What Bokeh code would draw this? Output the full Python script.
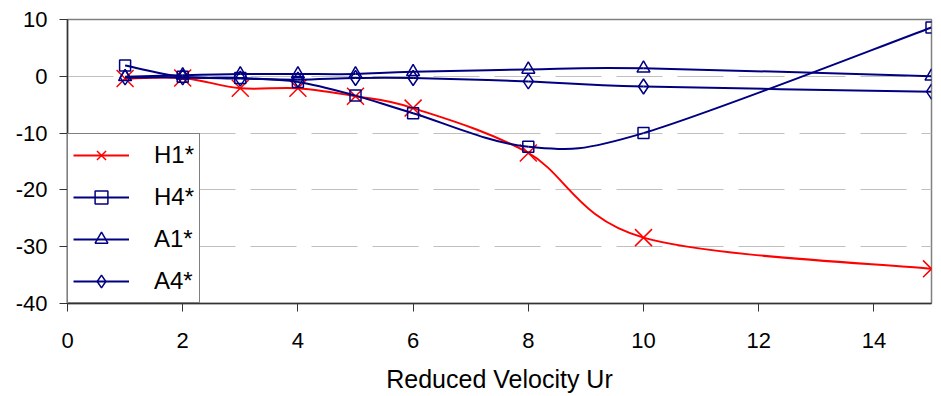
import numpy as np
from bokeh.plotting import figure
from bokeh.models import Legend, LegendItem, Range1d, FixedTicker, PrintfTickFormatter
from bokeh.embed import file_html
from bokeh.resources import INLINE

# ---- data ----
ur = [1, 2, 3, 4, 5, 6, 8, 10, 15]
h1 = [-0.4, -0.3, -2.1, -2.1, -3.5, -5.6, -13.5, -28.4, -33.9]
h4 = [1.9, -0.1, -0.3, -1.0, -3.4, -6.5, -12.4, -10.0, 8.6]
a1 = [-0.1, 0.2, 0.4, 0.4, 0.4, 0.8, 1.2, 1.4, 0.0]
a4 = [-0.2, -0.2, -0.4, -0.6, -0.3, -0.3, -0.9, -1.8, -2.7]
series_names = ["H1*", "H4*", "A1*", "A4*"]
x_ticks = [0, 2, 4, 6, 8, 10, 12, 14]
y_ticks = [-40, -30, -20, -10, 0, 10]

FONT = "Liberation Sans"
NAVY = "#000080"
RED = "#ff0000"


def smooth_segments(xs, ys):
    """Excel-like smoothed line: cubic Bezier control points from neighbours."""
    x = np.asarray(xs, float)
    y = np.asarray(ys, float)
    n = len(x)
    xp = np.concatenate([[x[0]], x, [x[-1]]])
    yp = np.concatenate([[y[0]], y, [y[-1]]])
    d = dict(x0=[], y0=[], x1=[], y1=[], cx0=[], cy0=[], cx1=[], cy1=[])
    for i in range(n - 1):
        j = i + 1
        d["x0"].append(x[i]); d["y0"].append(y[i])
        d["x1"].append(x[i + 1]); d["y1"].append(y[i + 1])
        d["cx0"].append(x[i] + (xp[j + 1] - xp[j - 1]) / 6.0)
        d["cy0"].append(y[i] + (yp[j + 1] - yp[j - 1]) / 6.0)
        d["cx1"].append(x[i + 1] - (xp[j + 2] - xp[j]) / 6.0)
        d["cy1"].append(y[i + 1] - (yp[j + 2] - yp[j]) / 6.0)
    return d


p = figure(width=935, height=395, output_backend="svg", toolbar_location=None,
           x_range=Range1d(0, 15), y_range=Range1d(-40, 10),
           min_border_left=67, min_border_right=4, min_border_top=19,
           min_border_bottom=92)

p.outline_line_color = "#808080"
p.outline_line_width = 1.5
p.background_fill_color = "white"
p.border_fill_color = "white"

p.xgrid.visible = False
p.ygrid.ticker = FixedTicker(ticks=y_ticks)
p.ygrid.grid_line_color = "#c0c0c0"
p.ygrid.grid_line_dash = "46 15"
p.ygrid.grid_line_width = 1

for ax in (p.xaxis[0], p.yaxis[0]):
    ax.axis_line_color = "#333333"
    ax.axis_line_width = 1.5
    ax.major_tick_line_color = "#333333"
    ax.major_tick_out = 8
    ax.major_tick_in = 0
    ax.minor_tick_line_color = None
    ax.major_label_text_font = FONT
    ax.major_label_text_font_size = "22px"
    ax.major_label_text_color = "black"
    ax.formatter = PrintfTickFormatter(format="%d")

p.xaxis.ticker = FixedTicker(ticks=x_ticks)
p.yaxis.ticker = FixedTicker(ticks=y_ticks)
p.xaxis.major_label_standoff = 21
p.yaxis.major_label_standoff = 12
p.xaxis.axis_label = "Reduced Velocity Ur"
p.xaxis.axis_label_text_font = FONT
p.xaxis.axis_label_text_font_size = "25px"
p.xaxis.axis_label_text_font_style = "normal"
p.xaxis.axis_label_text_color = "black"
p.xaxis.axis_label_standoff = 14

specs = [
    (h1, RED, "x", 24, 1.5),
    (h4, NAVY, "square", 11, 1.5),
    (a1, NAVY, "triangle", 13, 1.5),
    (a4, NAVY, "diamond", 15, 1.5),
]

items = []
for name, (ys, color, marker, size, mlw) in zip(series_names, specs):
    seg = smooth_segments(ur, ys)
    r_line = p.bezier(x0="x0", y0="y0", x1="x1", y1="y1", cx0="cx0", cy0="cy0",
                      cx1="cx1", cy1="cy1", source=seg, line_color=color,
                      line_width=2)
    r_mark = p.scatter(ur, ys, marker=marker, size=size, line_color=color,
                       fill_color=None, line_width=mlw)
    items.append(LegendItem(label=name, renderers=[r_line, r_mark]))

legend = Legend(items=items, location=(0, 0))
legend.label_text_font = FONT
legend.label_text_font_size = "24px"
legend.label_text_color = "black"
legend.glyph_width = 56
legend.glyph_height = 32
legend.label_height = 24
legend.label_standoff = 25
legend.spacing = 10
legend.padding = 5
legend.margin = 0
legend.border_line_color = "black"
legend.border_line_width = 1
legend.background_fill_color = "white"
legend.background_fill_alpha = 1.0
p.add_layout(legend, "center")

open("out.html", "w").write(file_html(p, INLINE))
